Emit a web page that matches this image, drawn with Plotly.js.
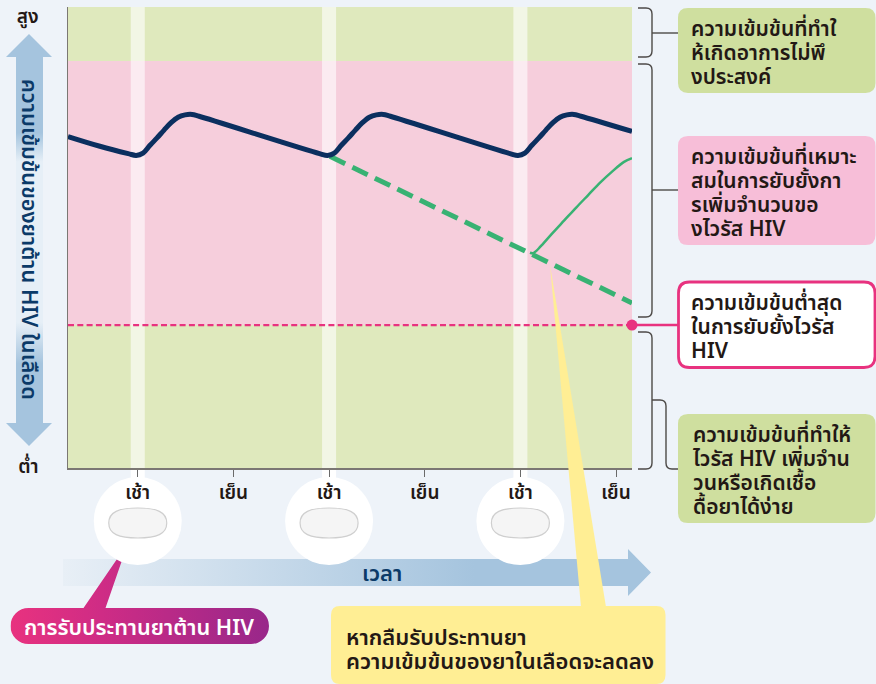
<!DOCTYPE html>
<html><head><meta charset="utf-8">
<script src="https://cdn.plot.ly/plotly-3.0.1.min.js"></script>
<style>html,body{margin:0;padding:0;background:#eef3f9;overflow:hidden}#c{width:876px;height:684px}</style>
</head><body><div id="c"></div>
<script>
// --- data (time in hours since the first morning dose, concentration on a 0-100 scale)
const tickHours = [0, 12, 24, 36, 48, 60];
const tickNames = ['เช้า', 'เย็น', 'เช้า', 'เย็น', 'เช้า', 'เย็น'];
const levelTicks = [98, 0.3];
const levelNames = ['สูง', 'ต่ำ'];
const dosedHours = [-8.75,-4.75,-1.2,-0.2,0.66,1.54,2.42,3.3,4.18,5.06,5.93,6.81,7.69,22.8,23.8,24.66,25.54,26.42,27.3,28.18,29.06,29.93,30.81,31.69,46.7,47.7,48.56,49.44,50.32,51.2,52.08,52.96,53.83,54.71,55.59,62];
const dosedConc  = [71.9,69.8,68.2,67.8,68.3,70.0,71.6,73.3,74.9,76.1,76.6,76.7,76.3,68.2,67.8,68.3,70.0,71.6,73.3,74.9,76.1,76.6,76.7,76.3,68.2,67.8,68.3,70.0,71.6,73.3,74.9,76.1,76.6,76.7,76.3,73.0];
const missedHours = [24.1, 62];
const missedConc  = [67.6, 35.8];
const lateHours = [49.2,49.6,50.0,50.5,52,53.5,55,56.5,58,59.5,61,62];
const lateConc  = [46.7,46.6,47.1,48.0,50.9,53.7,56.5,59.2,61.9,64.3,66.4,67.2];
const minHours = [-8.75, 62];
const minConc  = [31, 31];
const doseHours = [0, 24, 48];
const upperBand = 88.3;

// --- page layout helpers (pixel position to paper fraction)
const L=68,R=632,T=7,B=468;
const X=p=>(p-L)/(R-L), Y=p=>(B-p)/(B-T);
const pt=(x,y)=>X(x).toFixed(5)+','+Y(y).toFixed(5);
function poly(a){return 'M'+a.map(p=>pt(p[0],p[1])).join('L')+'Z';}
function open(a){return 'M'+a.map(p=>pt(p[0],p[1])).join('L');}
function rr(x0,y0,x1,y1,r){
  return 'M'+pt(x0+r,y0)+'L'+pt(x1-r,y0)+'Q'+pt(x1,y0)+' '+pt(x1,y0+r)+'L'+pt(x1,y1-r)+'Q'+pt(x1,y1)+' '+pt(x1-r,y1)+
  'L'+pt(x0+r,y1)+'Q'+pt(x0,y1)+' '+pt(x0,y1-r)+'L'+pt(x0,y0+r)+'Q'+pt(x0,y0)+' '+pt(x0+r,y0)+'Z';
}
function tablet(c){
  return 'M'+pt(c-29,523)+'C'+pt(c-29,512)+' '+pt(c-19,508)+' '+pt(c,508)+'C'+pt(c+19,508)+' '+pt(c+29,512)+' '+pt(c+29,523)+
         'C'+pt(c+29,534)+' '+pt(c+19,538)+' '+pt(c,538)+'C'+pt(c-19,538)+' '+pt(c-29,534)+' '+pt(c-29,523)+'Z';
}
function bracket(x0,x1,y0,y1,r){
  return 'M'+pt(x0,y0)+'L'+pt(x1-r,y0)+'Q'+pt(x1,y0)+' '+pt(x1,y0+r)+'L'+pt(x1,y1-r)+'Q'+pt(x1,y1)+' '+pt(x1-r,y1)+'L'+pt(x0,y1);
}
const deco=(path,fill,layer,line)=>({type:'path',xref:'paper',yref:'paper',path,fillcolor:fill||'rgba(0,0,0,0)',layer:layer||'below',line:line||{width:0}});
const gline={color:'#4d4a48',width:1.4};

const shapes=[
 {type:'rect',xref:'paper',yref:'paper',x0:0,x1:1,y0:upperBand/100,y1:1,fillcolor:'#dfe9bd',layer:'below',line:{width:0}},
 {type:'rect',xref:'paper',yref:'y',x0:0,x1:1,y0:minConc[0],y1:upperBand,fillcolor:'#f6cedc',layer:'below',line:{width:0}},
 {type:'rect',xref:'paper',yref:'y',x0:0,x1:1,y0:0,y1:minConc[0],fillcolor:'#dfe9bd',layer:'below',line:{width:0}}
];
doseHours.forEach(h=>{
  shapes.push({type:'rect',xref:'x',yref:'paper',x0:h-0.88,x1:h+0.88,y0:0,y1:1,fillcolor:'rgba(255,255,255,0.6)',layer:'below',line:{width:0}});
  const cx=L+(h+8.75)*(R-L)/70.75;
  shapes.push(deco(rr(cx-7,468,cx+7,490,0),'#ffffff'));
  shapes.push({type:'circle',xref:'paper',yref:'paper',x0:X(cx-44),x1:X(cx+44),y0:Y(565),y1:Y(477),fillcolor:'#ffffff',layer:'below',line:{width:0}});
  shapes.push(deco(tablet(cx),'#f5f5f5','below',{color:'#cfcfcf',width:1.2}));
});
shapes.push(
 deco(bracket(638,652,8,57,6),null,'below',gline),
 deco(open([[652,33],[678,33]]),null,'below',gline),
 deco(bracket(638,652,64,317,6),null,'below',gline),
 deco(open([[652,190],[678,190]]),null,'below',gline),
 deco(bracket(638,652,332,469,6),null,'below',gline),
 deco('M'+pt(652,400)+'L'+pt(660,400)+'Q'+pt(666,400)+' '+pt(666,406)+'L'+pt(666,463)+'Q'+pt(666,469)+' '+pt(672,469)+'L'+pt(678,469),null,'below',gline),
 deco(open([[634,325],[680,325]]),null,'below',{color:'#e8327f',width:2.5}),
 deco(rr(678,8,875.5,93,10),'#cfdf9f'),
 deco(rr(678,136,875.5,245,10),'#f7bed8'),
 deco(rr(678.5,282,875,367.5,11),'#ffffff','below',{color:'#e8327f',width:2.8}),
 deco(rr(678,414,875.5,523,10),'#cfdf9f'),
 deco(poly([[550,265],[581,607],[606,607]]),'#ffee94','above'),
 deco(rr(331,606,665.5,684,9),'#ffee94','above')
);

// --- gradient artwork
const svg=s=>'data:image/svg+xml;utf8,'+encodeURIComponent('<svg xmlns="http://www.w3.org/2000/svg" '+s+'</svg>');
const img=(src,x,y,w,h)=>({source:src,xref:'paper',yref:'paper',x:X(x),y:Y(y),sizex:w/(R-L),sizey:h/(B-T),xanchor:'left',yanchor:'top',sizing:'stretch',layer:'below'});
const vArrow=svg('width="46" height="412" viewBox="0 0 46 412"><defs><linearGradient id="g" x1="0" y1="0" x2="0" y2="1"><stop offset="0.17" stop-color="#a5c4de"/><stop offset="0.24" stop-color="#a5c4de"/><stop offset="0.31" stop-color="#e6eff7"/><stop offset="0.7" stop-color="#e6eff7"/><stop offset="0.8" stop-color="#a5c4de"/></linearGradient></defs><path fill="url(#g)" d="M23 0L46 23H37V389H46L23 412L0 389H10V23H0Z"/>');
const hArrow=svg('width="588" height="47" viewBox="0 0 588 47"><defs><linearGradient id="g" x1="0" y1="0" x2="1" y2="0"><stop offset="0" stop-color="#e8eff6"/><stop offset="0.7" stop-color="#a5c4de"/></linearGradient></defs><path fill="url(#g)" d="M0 10H565V0L588 23.5L565 47V37H0Z"/>');
const pill=svg('width="259" height="101" viewBox="0 0 259 101"><defs><linearGradient id="g" gradientUnits="userSpaceOnUse" x1="0" y1="0" x2="259" y2="0"><stop offset="0" stop-color="#e8327f"/><stop offset="0.35" stop-color="#cf2c85"/><stop offset="1" stop-color="#98278a"/></linearGradient></defs><path fill="url(#g)" d="M117.5 0L95 65H240.5A18 18 0 0 1 240.5 101H18A18 18 0 0 1 18 65H73Z"/>');

const images=[img(vArrow,6,34,46,412),img(hArrow,63,549,588,47),img(pill,10.5,543,259,101)];

// --- texts
const font='"Noto Sans","Noto Sans Thai","Open Sans",sans-serif';
const dark='#231815';
const navy='#0b3a68';
const label=(text,x,y,opts)=>Object.assign({text,xref:'paper',yref:'paper',x:X(x),y:Y(y),showarrow:false,xanchor:'left',yanchor:'middle',align:'left',font:{family:font,size:21,weight:600,color:dark}},opts||{});
// one annotation per box; base size sets the line spacing, the span sets the glyph size
const block=(lines,x,y,glyph)=>label(lines.map(t=>'<span style="font-size:'+glyph+'px">'+t+'</span>').join('<br>'),x,y,{font:{family:font,size:18.5,weight:600,color:dark}});
const annotations=[
 block(['ความเข้มข้นที่ทำใ','ห้เกิดอาการไม่พึ','งประสงค์'],689,52,21),
 block(['ความเข้มข้นที่เหมาะ','สมในการยับยั้งกา','รเพิ่มจำนวนขอ','งไวรัส HIV'],689,192,21),
 block(['ความเข้มข้นต่ำสุด','ในการยับยั้งไวรัส','HIV'],689,325.5,21),
 block(['ความเข้มข้นที่ทำให้','ไวรัส HIV เพิ่มจำน','วนหรือเกิดเชื้อ','ดื้อยาได้ง่าย'],690,470,21),
 block(['หากลืมรับประทานยา','ความเข้มข้นของยาในเลือดจะลดลง'],344,647.5,22),
 label('การรับประทานยาต้าน HIV',22,626,{font:{family:font,size:21.7,weight:600,color:'#ffffff'}}),
 label('เวลา',382,572,{xanchor:'center',font:{family:font,size:22,weight:600,color:navy}}),
 label('ความเข้มข้นของยาต้าน HIV ในเลือด',30,239,{xanchor:'center',textangle:90,font:{family:font,size:21.8,weight:600,color:navy}})
];

const traces=[
 {x:minHours,y:minConc,mode:'lines',line:{color:'#e8327f',width:2.4,dash:'6px,3.3px'},hoverinfo:'skip'},
 {x:[62],y:[minConc[0]],mode:'markers',marker:{color:'#e8327f',size:11},cliponaxis:false,hoverinfo:'skip'},
 {x:missedHours,y:missedConc,mode:'lines',line:{color:'#38b273',width:5,dash:'17px,8px'},hoverinfo:'skip'},
 {x:lateHours,y:lateConc,mode:'lines',line:{color:'#38b273',width:2.5,shape:'spline',smoothing:1},hoverinfo:'skip'},
 {x:dosedHours,y:dosedConc,mode:'lines',line:{color:'#0b2f5f',width:5,shape:'spline',smoothing:1},hoverinfo:'skip'}
];

Plotly.newPlot('c',traces,{
 width:876,height:684,showlegend:false,hovermode:false,
 paper_bgcolor:'#eef3f9',plot_bgcolor:'rgba(0,0,0,0)',
 margin:{l:L,r:876-R,t:T,b:684-B,pad:0},
 xaxis:{range:[-8.75,62],tickmode:'array',tickvals:tickHours,ticktext:tickNames,ticks:'outside',ticklen:7,tickwidth:1,tickcolor:'#6a6a6a',showline:true,linecolor:'#7b7773',linewidth:1.5,showgrid:false,zeroline:false,tickfont:{family:font,size:19,weight:600,color:dark},fixedrange:true},
 yaxis:{range:[0,100],tickmode:'array',tickvals:levelTicks,ticktext:levelNames,ticks:'',showline:true,linecolor:'#7b7773',linewidth:1.5,showgrid:false,zeroline:false,tickfont:{family:font,size:19,weight:600,color:dark},ticklabelstandoff:24,fixedrange:true},
 shapes,images,annotations
},{displayModeBar:false,staticPlot:true});
</script></body></html>
